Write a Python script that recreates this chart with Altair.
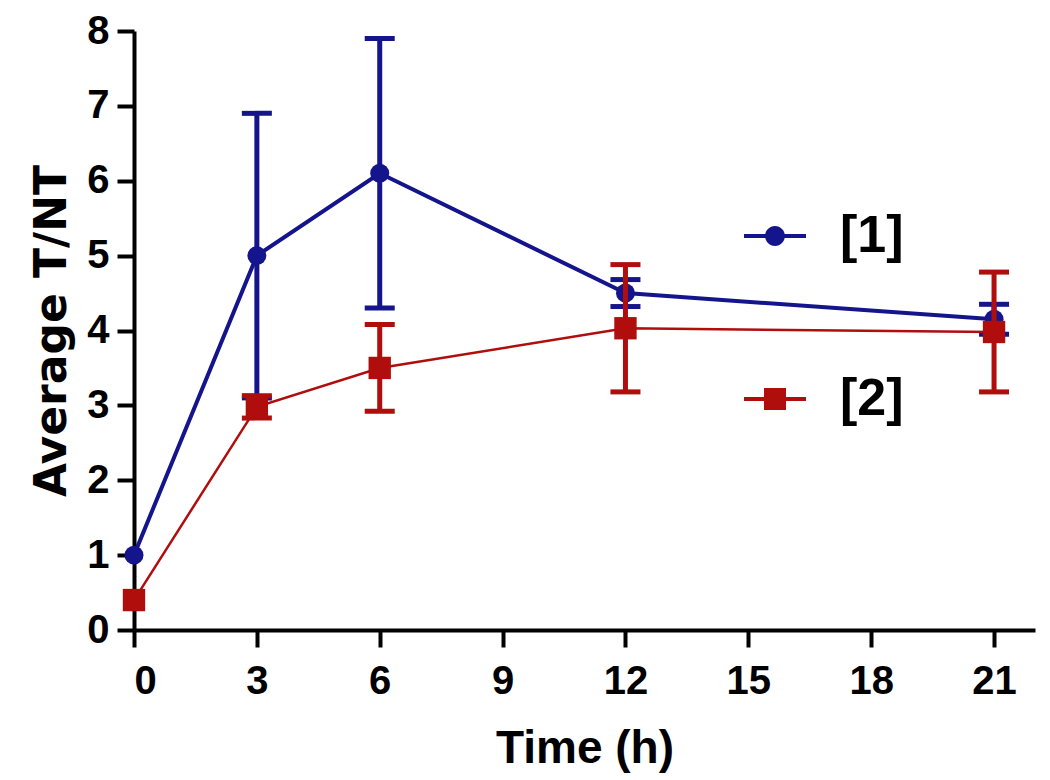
import altair as alt
import pandas as pd

# ---- data ----
time_h = [0, 3, 6, 12, 21]
s1_mean = [1.0, 5.0, 6.1, 4.5, 4.15]
s1_err = [0.0, 1.9, 1.8, 0.18, 0.2]
s2_mean = [0.4, 2.98, 3.5, 4.03, 3.98]
s2_err = [0.0, 0.15, 0.58, 0.85, 0.8]
series_names = ["[1]", "[2]"]
series_colors = ["#14148c", "#b00d0d"]
x_ticks = [0, 3, 6, 9, 12, 15, 18, 21]
y_ticks = [0, 1, 2, 3, 4, 5, 6, 7, 8]

rows = []
for name, means, errs in [(series_names[0], s1_mean, s1_err),
                          (series_names[1], s2_mean, s2_err)]:
    for t, m, e in zip(time_h, means, errs):
        rows.append({"time": t, "mean": m, "err": e, "lo": m - e, "hi": m + e,
                     "series": name})
df = pd.DataFrame(rows)

FONT = "Liberation Sans"

x_enc = alt.X("time:Q", scale=alt.Scale(domain=[0, 22], nice=False),
              axis=alt.Axis(values=x_ticks, title="Time (h)", format="d",
                            labelPadding=14, titlePadding=25))
y_enc = alt.Y("mean:Q", scale=alt.Scale(domain=[0, 8], nice=False),
              axis=alt.Axis(values=y_ticks, title="Average T/NT", format="d",
                            labelPadding=8, titlePadding=12,
                            titleFont="DejaVu Sans", titleFontSize=44))


def series_layers(name, color, line_w, marker, msize):
    base = alt.Chart(df).transform_filter(alt.datum.series == name)
    eb = base.transform_filter("datum.err > 0")
    rule = eb.mark_rule(strokeWidth=5, color=color).encode(
        x=x_enc, y=alt.Y("lo:Q"), y2="hi:Q")
    caps = eb.transform_fold(["lo", "hi"], as_=["which", "val"]).mark_tick(
        orient="horizontal", size=30, thickness=5, color=color, opacity=1
    ).encode(x=x_enc, y=alt.Y("val:Q"))
    line = base.mark_line(color=color, strokeWidth=line_w).encode(x=x_enc, y=y_enc)
    pts = base.mark_point(filled=True, opacity=1, color=color, size=msize,
                          shape=marker).encode(x=x_enc, y=y_enc)
    return [rule, caps, line, pts]


path_circle = ("M-1,-0.065H-0.3V0.065H-1Z "
               "M-0.32,0A0.32,0.32 0 1,1 0.32,0A0.32,0.32 0 1,1 -0.32,0Z "
               "M0.3,-0.065H1V0.065H0.3Z")
path_square = ("M-1,-0.065H-0.355V0.065H-1Z "
               "M-0.355,-0.355H0.355V0.355H-0.355Z "
               "M0.355,-0.065H1V0.065H0.355Z")

leg = alt.Legend(title=None, orient="none", legendX=610, legendY=174,
                 direction="vertical", symbolSize=3844, symbolStrokeWidth=0,
                 symbolOpacity=1, rowPadding=106, labelOffset=34,
                 labelFont=FONT, labelFontSize=52, labelFontWeight="bold",
                 labelColor="black", padding=0)

legend_layer = alt.Chart(df).transform_filter("datum.time < 0").mark_point(
    filled=True, opacity=1).encode(
    color=alt.Color("series:N", scale=alt.Scale(domain=series_names, range=series_colors),
                    legend=leg),
    shape=alt.Shape("series:N", scale=alt.Scale(domain=series_names,
                                                range=[path_circle, path_square]),
                    legend=leg),
)

layers = (series_layers(series_names[0], series_colors[0], 4, "circle", 360)
          + series_layers(series_names[1], series_colors[1], 2.5, "square", 500)
          + [legend_layer])

chart = alt.layer(*layers).properties(
    width=901, height=599,
    padding={"left": 22, "top": 3, "right": 5, "bottom": 2},
    background="white",
).configure_view(stroke=None).configure_axis(
    grid=False, domainColor="black", domainWidth=4, tickColor="black",
    tickWidth=4, tickSize=17, labelFont=FONT, labelFontSize=40,
    labelFontWeight="bold", labelColor="black", titleFont=FONT,
    titleFontSize=46, titleFontWeight="bold", titleColor="black",
)

chart.save("out.html", embed_options={"renderer": "svg", "actions": False})
